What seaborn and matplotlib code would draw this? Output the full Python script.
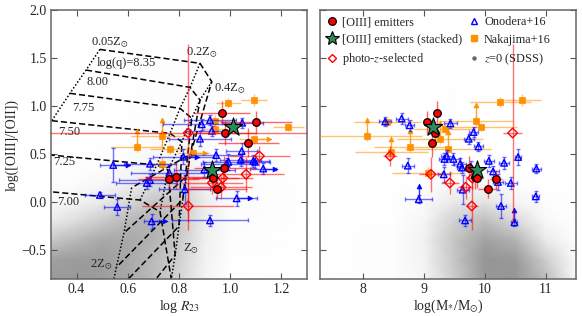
import numpy as np
import pandas as pd
import matplotlib
matplotlib.use("Agg")
import matplotlib.pyplot as plt
import seaborn as sns
from matplotlib.colors import LinearSegmentedColormap
from matplotlib.lines import Line2D

# ---------------- data ----------------
# [OIII] emitters
red_o32 = [0.93, 0.83, 0.72, 0.62, 0.36, 0.26, 0.25, 0.24, 0.14]
red_r23 = [0.967, 1.101, 0.980, 1.071, 0.977, 0.787, 0.934, 0.760, 0.947]
red_mass = [9.22, 9.06, 9.18, 9.14, 9.75, 9.84, 9.88, 10.19, 10.05]
red_o32_err = [0.12, 0.12, 0.12, 0.15, 0.12, 0.12, 0.10, 0.10, 0.10]
red_r23_err = [0.11, 0.14, 0.12, 0.12, 0.12, 0.12, 0.10, 0.12, 0.12]
red_mass_err = [0.06, 0.06, 0.06, 0.06, 0.08, 0.08, 0.08, 0.10, 0.15]

# stacked
stack_o32 = [0.779, 0.335]
stack_r23 = [1.010, 0.928]
stack_mass = [9.15, 9.88]

# photo-z selected
photo_o32 = [0.72, 0.48, 0.29, 0.25, 0.20, 0.155, -0.04]
photo_r23 = [0.836, 1.114, 1.062, 0.971, 0.930, 0.964, 0.836]
photo_mass = [10.46, 8.45, 9.12, 9.80, 9.43, 9.69, 9.79]
photo_o32_err = [0.93, 0.10, 0.18, 0.12, 0.12, 0.12, 0.25]
photo_r23_err = [0.60, 0.12, 0.15, 0.12, 0.12, 0.12, 0.18]
photo_mass_err = [0.15, 0.12, 0.20, 0.08, 0.15, 0.12, 0.10]

# Onodera+16 (left panel)
ono_r23 = [0.921, 0.889, 1.047, 0.928, 0.882, 1.045, 0.945, 0.817, 1.041, 1.090, 0.993,
           1.097, 0.986, 0.543, 1.129, 0.899, 0.762, 0.687, 0.674, 0.491, 1.025, 0.559,
           0.921, 0.693, 0.687, 0.823]
ono_o32_l = [0.855, 0.81, 0.827, 0.743, 0.66, 0.532, 0.49, 0.473, 0.44, 0.43, 0.42,
             0.42, 0.40, 0.387, 0.35, 0.34, 0.306, 0.23, 0.20, 0.075, 0.04, -0.05,
             -0.19, -0.20, 0.40, 0.134]
ono_r23_err = [0.10, 0.15, 0.08, 0.10, 0.12, 0.06, 0.10, 0.12, 0.08, 0.06, 0.10,
               0.06, 0.10, 0.05, 0.05, 0.12, 0.15, 0.12, 0.12, 0.06, 0.08, 0.05,
               0.15, 0.03, 0.10, 0.10]
ono_o32_l_err = [0.05, 0.06, 0.05, 0.05, 0.08, 0.08, 0.06, 0.08, 0.06, 0.06, 0.08,
                 0.06, 0.06, 0.18, 0.06, 0.08, 0.08, 0.06, 0.06, 0.03, 0.08, 0.08,
                 0.06, 0.08, 0.06, 0.15]
ono_arrow_r23_from = [0.543, 0.693, 1.129, 1.025, 0.817]
ono_arrow_r23_to = [0.600, 0.745, 1.175, 1.077, 0.870]
ono_arrow_o32_l = [0.387, -0.20, 0.35, 0.04, 0.473]

# Onodera+16 (right panel)
ono_mass = [8.64, 8.37, 9.44, 8.77, 9.82, 9.74, 9.90, 9.38, 10.55, 9.34, 9.49, 10.07,
            10.32, 9.60, 8.74, 9.77, 9.63, 10.85, 10.14, 9.33, 10.22, 10.43, 9.64,
            10.84, 8.92, 10.27, 9.68, 10.49]
ono_o32_r = [0.87, 0.84, 0.82, 0.80, 0.73, 0.66, 0.58, 0.48, 0.47, 0.45, 0.45, 0.43,
             0.41, 0.40, 0.38, 0.37, 0.36, 0.35, 0.32, 0.29, 0.21, 0.20, 0.13, 0.06,
             0.03, -0.04, -0.19, -0.21]
ono_mass_err = [0.10, 0.10, 0.10, 0.08, 0.08, 0.08, 0.08, 0.10, 0.05, 0.08, 0.10,
                0.08, 0.08, 0.10, 0.10, 0.08, 0.08, 0.08, 0.10, 0.10, 0.08, 0.10,
                0.10, 0.06, 0.22, 0.08, 0.10, 0.05]
ono_o32_r_err = [0.06, 0.05, 0.05, 0.06, 0.05, 0.05, 0.05, 0.06, 0.08, 0.06, 0.06,
                 0.06, 0.06, 0.06, 0.08, 0.06, 0.06, 0.05, 0.06, 0.08, 0.08, 0.06,
                 0.15, 0.06, 0.04, 0.12, 0.06, 0.04]
ono_arrow_mass = [8.92, 10.49]
ono_arrow_o32_from = [0.03, -0.21]
ono_arrow_o32_to = [0.17, -0.08]

# Nakajima+16 (left panel)
nak_r23 = [1.093, 0.993, 0.941, 1.227, 0.941, 0.732, 1.093, 0.635, 0.765, 0.856, 0.732]
nak_o32_l = [1.063, 1.035, 0.848, 0.78, 0.758, 0.69, 0.654, 0.577, 0.55, 0.515, 0.397]
nak_r23_err = [0.05, 0.05, 0.06, 0.06, 0.05, 0.12, 0.06, 0.10, 0.08, 0.06, 0.06]
nak_o32_l_err = [0.06, 0.05, 0.06, 0.04, 0.06, 0.05, 0.05, 0.05, 0.05, 0.04, 0.06]
nak_rarrow_r23_from = [1.093, 0.856]
nak_rarrow_r23_to = [1.150, 0.900]
nak_rarrow_o32 = [0.654, 0.515]
nak_uarrow_r23 = [0.732, 0.635, 0.732]
nak_uarrow_o32_from = [0.69, 0.577, 0.397]
nak_uarrow_o32_to = [0.80, 0.69, 0.49]

# Nakajima+16 (right panel)
nak_mass = [10.62, 10.26, 9.86, 8.40, 9.94, 9.35, 8.07, 9.27, 8.78, 9.40, 8.47, 9.08]
nak_o32_r = [1.063, 1.045, 0.848, 0.83, 0.78, 0.76, 0.69, 0.654, 0.577, 0.55, 0.525, 0.307]
nak_mass_err = [0.30, 0.50, 0.60, 0.55, 0.60, 0.50, 0.90, 0.70, 0.60, 0.70, 0.60, 0.60]
nak_o32_r_err = [0.06, 0.05, 0.06, 0.05, 0.04, 0.06, 0.05, 0.05, 0.05, 0.05, 0.04, 0.06]
nak_uarrow_mass = [8.07, 8.78, 9.40, 9.86, 9.27, 8.47]
nak_uarrow_o32_from = [0.69, 0.577, 0.55, 0.848, 0.654, 0.525]
nak_uarrow_o32_to = [0.86, 0.74, 0.73, 1.01, 0.82, 0.66]

# photoionisation model grid (rows: log q, columns: Z = 0.05, 0.2, 0.4, 1, 2 Zsun)
grid_q = ["8.35", "8.00", "7.75", "7.50", "7.25", "7.00"]
grid_r23 = [[0.491, 0.882, 0.928, 0.845, 0.615],
            [0.437, 0.843, 0.882, 0.830, 0.585],
            [0.374, 0.804, 0.850, 0.815, 0.555],
            [0.303, 0.765, 0.811, 0.800, 0.530],
            [0.220, 0.713, 0.757, 0.785, 0.560],
            [0.130, 0.648, 0.726, 0.770, 0.600]]
grid_o32 = [[1.590, 1.445, 1.254, 0.50, 0.15],
            [1.375, 1.195, 1.063, 0.27, -0.32],
            [1.133, 0.977, 0.873, 0.03, -0.68],
            [0.848, 0.716, 0.629, -0.25, -1.00],
            [0.510, 0.387, 0.335, -0.55, -1.30],
            [0.150, 0.022, -0.100, -0.80, -1.50]]

# SDSS z=0 density (grey cloud), read as relative shading on a coarse grid
sdss_l_x = [0.3, 0.4, 0.5, 0.6, 0.7, 0.8, 0.9, 1.0, 1.3]
sdss_l_y = [-0.8, -0.6, -0.4, -0.2, 0.0, 0.2, 0.4, 0.6, 2.0]
sdss_l_d = [[0.90, 0.92, 0.88, 0.78, 0.60, 0.38, 0.10, 0.01, 0.0],
            [0.85, 0.90, 0.88, 0.78, 0.62, 0.42, 0.12, 0.01, 0.0],
            [0.50, 0.65, 0.78, 0.78, 0.68, 0.48, 0.14, 0.02, 0.0],
            [0.18, 0.32, 0.48, 0.65, 0.70, 0.52, 0.16, 0.03, 0.0],
            [0.05, 0.10, 0.20, 0.35, 0.52, 0.52, 0.17, 0.03, 0.0],
            [0.01, 0.03, 0.06, 0.12, 0.26, 0.36, 0.13, 0.03, 0.0],
            [0.00, 0.01, 0.02, 0.04, 0.09, 0.13, 0.07, 0.01, 0.0],
            [0.00, 0.00, 0.01, 0.01, 0.03, 0.05, 0.03, 0.00, 0.0],
            [0.00, 0.00, 0.00, 0.00, 0.00, 0.00, 0.00, 0.00, 0.0]]
sdss_r_x = [7.3, 8.5, 9.0, 9.5, 10.0, 10.5, 11.0, 11.5]
sdss_r_y = [-0.8, -0.6, -0.4, -0.2, 0.0, 0.2, 0.4, 2.0]
sdss_r_d = [[0.0, 0.02, 0.08, 0.45, 0.92, 0.95, 0.60, 0.05],
            [0.0, 0.02, 0.10, 0.50, 0.95, 0.92, 0.45, 0.03],
            [0.0, 0.02, 0.12, 0.52, 0.85, 0.70, 0.20, 0.01],
            [0.0, 0.01, 0.08, 0.42, 0.60, 0.35, 0.06, 0.00],
            [0.0, 0.01, 0.04, 0.20, 0.25, 0.10, 0.02, 0.00],
            [0.0, 0.00, 0.01, 0.06, 0.06, 0.02, 0.00, 0.00],
            [0.0, 0.00, 0.00, 0.01, 0.01, 0.00, 0.00, 0.00],
            [0.0, 0.00, 0.00, 0.00, 0.00, 0.00, 0.00, 0.00]]

# ---------------- styling ----------------
sns.set_theme(style="ticks")
plt.rcParams["font.family"] = ["Liberation Serif", "DejaVu Serif"]
plt.rcParams["mathtext.fontset"] = "stix"
plt.rcParams["axes.unicode_minus"] = True

RED = "#ff0000"
BLUE = "#0000ff"
ORANGE = "#ff9000"
GREEN = "#2e8b57"
GREY = "#909090"

fig = plt.figure(figsize=(5.82, 3.16), dpi=100)
axL = fig.add_axes([0.0876, 0.117, 0.4399, 0.8513])
axR = fig.add_axes([0.5498, 0.117, 0.4399, 0.8513])

cmap = LinearSegmentedColormap.from_list("sdss", ["#ffffff", GREY])
for ax, gx, gy, gd in [(axL, sdss_l_x, sdss_l_y, sdss_l_d), (axR, sdss_r_x, sdss_r_y, sdss_r_d)]:
    X, Y = np.meshgrid(gx, gy)
    ax.pcolormesh(X, Y, np.array(gd), shading="gouraud", cmap=cmap, vmin=0, vmax=1,
                  zorder=0, rasterized=True)

# model grid
gr = np.array(grid_r23)
go = np.array(grid_o32)
for i in range(gr.shape[0]):
    axL.plot(gr[i], go[i], color="black", lw=1.1, ls=(0, (4, 2)), zorder=1)
for j in range(gr.shape[1]):
    axL.plot(gr[:, j], go[:, j], color="black", lw=1.1, ls=(0, (1, 1.3)), zorder=1)

ann = [(0.456, 1.66, r"0.05Z$_{\odot}$"), (0.48, 1.45, "log(q)=8.35"),
       (0.44, 1.25, "8.00"), (0.382, 0.98, "7.75"), (0.327, 0.73, "7.50"),
       (0.308, 0.42, "7.25"), (0.323, 0.0, "7.00"), (0.827, 1.56, r"0.2Z$_{\odot}$"),
       (0.937, 1.18, r"0.4Z$_{\odot}$"), (0.816, -0.48, r"Z$_{\odot}$"),
       (0.452, -0.65, r"2Z$_{\odot}$")]
for x, y, s in ann:
    axL.text(x, y, s, fontsize=9, ha="left", va="center", zorder=2)


def pts(ax, x, y, **kw):
    df = pd.DataFrame(list(zip(x, y)), columns=["x", "y"])
    sns.scatterplot(data=df, x="x", y="y", ax=ax, legend=False, **kw)


def errs(ax, x, y, xe, ye, color, alpha, z, cap=0):
    ax.errorbar(x, y, xerr=xe, yerr=ye, fmt="none", ecolor=color, alpha=alpha,
                elinewidth=1.0, capsize=cap, zorder=z)


def harrow(ax, x0, x1, y, color, z):
    for a, b, c in zip(x0, x1, y):
        ax.plot([a, b], [c, c], color=color, lw=1.0, alpha=0.7, zorder=z)
    pts(ax, x1, y, marker=">", s=12, color=color, edgecolor=color, linewidth=0.5, zorder=z)


def varrow(ax, x, y0, y1, color, z):
    for a, b, c in zip(x, y0, y1):
        ax.plot([a, a], [b, c], color=color, lw=1.0, alpha=0.8, zorder=z)
    pts(ax, x, y1, marker="^", s=12, color=color, edgecolor=color, linewidth=0.5, zorder=z)


def draw(ax, nx, ny, nxe, nye, ox, oy, oxe, oye, px, py, pxe, pye, rx, ry, rxe, rye, sx, sy):
    errs(ax, nx, ny, nxe, nye, ORANGE, 0.55, 3)
    pts(ax, nx, ny, marker="s", s=16, color=ORANGE, edgecolor=ORANGE, linewidth=0.5, zorder=3.5)
    errs(ax, ox, oy, oxe, oye, BLUE, 0.55, 4, cap=1.5)
    pts(ax, ox, oy, marker="^", s=22, facecolor="none", edgecolor=BLUE, linewidth=1.0, zorder=4.5)
    errs(ax, px, py, pxe, pye, RED, 0.55, 5)
    pts(ax, px, py, marker="D", s=24, facecolor="none", edgecolor=RED, linewidth=1.0, zorder=5.5)
    errs(ax, rx, ry, rxe, rye, RED, 0.6, 6)
    pts(ax, rx, ry, marker="o", s=30, color=RED, edgecolor="black", linewidth=0.9, zorder=6.5)
    pts(ax, sx, sy, marker="*", s=190, color=GREEN, edgecolor="black", linewidth=0.8, zorder=7)


draw(axL, nak_r23, nak_o32_l, nak_r23_err, nak_o32_l_err,
     ono_r23, ono_o32_l, ono_r23_err, ono_o32_l_err,
     photo_r23, photo_o32, photo_r23_err, photo_o32_err,
     red_r23, red_o32, red_r23_err, red_o32_err, stack_r23, stack_o32)
harrow(axL, ono_arrow_r23_from, ono_arrow_r23_to, ono_arrow_o32_l, BLUE, 4)
harrow(axL, nak_rarrow_r23_from, nak_rarrow_r23_to, nak_rarrow_o32, ORANGE, 3)
varrow(axL, nak_uarrow_r23, nak_uarrow_o32_from, nak_uarrow_o32_to, ORANGE, 3)

draw(axR, nak_mass, nak_o32_r, nak_mass_err, nak_o32_r_err,
     ono_mass, ono_o32_r, ono_mass_err, ono_o32_r_err,
     photo_mass, photo_o32, photo_mass_err, photo_o32_err,
     red_mass, red_o32, red_mass_err, red_o32_err, stack_mass, stack_o32)
varrow(axR, ono_arrow_mass, ono_arrow_o32_from, ono_arrow_o32_to, BLUE, 4)
varrow(axR, nak_uarrow_mass, nak_uarrow_o32_from, nak_uarrow_o32_to, ORANGE, 3)

# axes
for ax in (axL, axR):
    ax.set_ylim(-0.8, 2.0)
    ax.set_yticks([-0.5, 0.0, 0.5, 1.0, 1.5, 2.0])
    ax.tick_params(direction="in", top=True, right=True, length=4, width=0.8,
                   color="#555555", labelsize=10, pad=3)
    for sp in ax.spines.values():
        sp.set_color("#666666")
        sp.set_linewidth(1.1)
axL.set_xlim(0.3, 1.3)
axL.set_xticks([0.4, 0.6, 0.8, 1.0, 1.2])
axR.set_xlim(7.3, 11.5)
axR.set_xticks([8, 9, 10, 11])
axR.tick_params(labelleft=False)

axL.set_xlabel(r"log $R_{23}$", fontsize=10, labelpad=1)
axL.set_ylabel("log([OIII]/[OII])", fontsize=10, labelpad=2)
axR.set_xlabel(r"log(M$_{*}$/M$_{\odot}$)", fontsize=10, labelpad=1)
axR.set_ylabel("")

handles = [
    Line2D([], [], ls="none", marker="o", ms=5.5, mfc=RED, mec="black", mew=0.9),
    Line2D([], [], ls="none", marker="*", ms=10, mfc=GREEN, mec="black", mew=0.8),
    Line2D([], [], ls="none", marker="D", ms=4.5, mfc="none", mec=RED, mew=1.0),
    Line2D([], [], ls="none", marker="^", ms=4.5, mfc="none", mec=BLUE, mew=1.0),
    Line2D([], [], ls="none", marker="s", ms=4, mfc=ORANGE, mec=ORANGE),
    Line2D([], [], ls="none", marker="o", ms=2.2, mfc="#666666", mec="#666666"),
]
labels = ["[OIII] emitters", "[OIII] emitters (stacked)", r"photo-$z$-selected",
          "Onodera+16", "Nakajima+16", r"$z$=0 (SDSS)"]
axR.legend(handles, labels, loc="upper left", ncol=2, frameon=False, fontsize=8.8,
           handletextpad=0.3, columnspacing=0.5, labelspacing=0.45, handlelength=1.0,
           borderaxespad=0.3, borderpad=0.2)

fig.savefig("out.png", dpi=100)
